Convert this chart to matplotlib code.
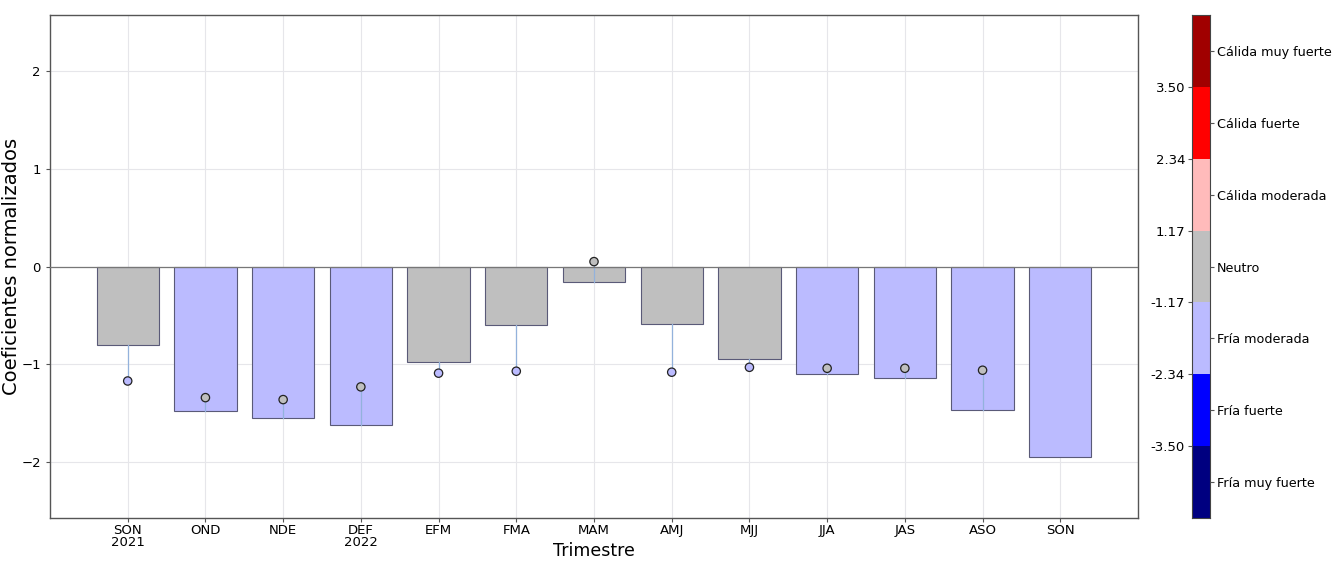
import numpy as np
import matplotlib.pyplot as plt

# datos
trimestres = ["SON\n2021", "OND", "NDE", "DEF\n2022", "EFM", "FMA", "MAM",
              "AMJ", "MJJ", "JJA", "JAS", "ASO", "SON"]
barras = [-0.80, -1.48, -1.55, -1.62, -0.98, -0.60, -0.16,
          -0.59, -0.95, -1.10, -1.14, -1.47, -1.95]
clase_barras = ["Neutro", "Fría moderada", "Fría moderada", "Fría moderada",
                "Neutro", "Neutro", "Neutro", "Neutro", "Neutro",
                "Fría moderada", "Fría moderada", "Fría moderada", "Fría moderada"]
puntos = [-1.17, -1.34, -1.36, -1.23, -1.09, -1.07, 0.05,
          -1.08, -1.03, -1.04, -1.04, -1.06, np.nan]
clase_puntos = ["Fría moderada", "Neutro", "Neutro", "Neutro", "Fría moderada",
                "Fría moderada", "Neutro", "Fría moderada", "Fría moderada",
                "Neutro", "Neutro", "Neutro", "Neutro"]

categorias = ["Fría muy fuerte", "Fría fuerte", "Fría moderada", "Neutro",
              "Cálida moderada", "Cálida fuerte", "Cálida muy fuerte"]
colores = ["#000080", "#0000ff", "#bbbbff", "#bfbfbf",
           "#ffbbbb", "#ff0000", "#a00000"]
limites = ["-3.50", "-2.34", "-1.17", "1.17", "2.34", "3.50"]

color_de = dict(zip(categorias, colores))

fig = plt.figure(figsize=(13.36, 5.64), dpi=100)
ax = fig.add_axes([50 / 1336, 46 / 564, 1088 / 1336, 503 / 564])

x = np.arange(len(trimestres))
ax.bar(x, barras, width=0.8, color=[color_de[c] for c in clase_barras],
       edgecolor="#5a5a78", linewidth=0.8, zorder=2)

# tallos entre la barra y el punto
for xi, b, p in zip(x, barras, puntos):
    if not np.isnan(p):
        ax.plot([xi, xi], [b, p], color="#93b2dc", lw=0.9, zorder=3)

ax.scatter(x, puntos, s=36, c=[color_de[c] for c in clase_puntos],
           edgecolors="#222222", linewidths=0.9, zorder=4)

ax.axhline(0, color="#777777", lw=0.9, zorder=3)

ax.set_xlim(-1, 13)
ax.set_ylim(-2.57, 2.57)
ax.set_xticks(x)
ax.set_xticklabels(trimestres, fontsize=9.5, linespacing=0.9)
ax.set_yticks([-2, -1, 0, 1, 2])
ax.set_yticklabels(["\u22122", "\u22121", "0", "1", "2"], fontsize=9.5)
ax.tick_params(length=3, color="#555555")
ax.tick_params(axis="x", pad=1)
ax.grid(True, color="#e6e6ea", lw=0.8, zorder=0)
ax.set_axisbelow(True)
for s in ax.spines.values():
    s.set_color("#555555")
    s.set_linewidth(1.0)

ax.set_xlabel("Trimestre", fontsize=12.5)
ax.xaxis.set_label_coords(0.5, -0.047)
ax.set_ylabel("Coeficientes normalizados", fontsize=14)
ax.yaxis.set_label_coords(-0.027, 0.5)

# barra de colores con segmentos iguales
cax = fig.add_axes([1192 / 1336, 46 / 564, 18 / 1336, 503 / 564])
n = len(categorias)
cax.bar(np.zeros(n), np.ones(n), bottom=np.arange(n), width=1,
        color=colores, edgecolor="none")
cax.set_xlim(-0.5, 0.5)
cax.set_ylim(0, n)
cax.set_xticks([])
cax.set_yticks(np.arange(1, n))
cax.set_yticklabels(limites, fontsize=9.5)
cax.tick_params(axis="y", length=3, pad=2, color="#555555")
for s in cax.spines.values():
    s.set_color("#444444")
    s.set_linewidth(0.8)

cax2 = cax.twinx()
cax2.set_ylim(0, n)
cax2.set_yticks(np.arange(n) + 0.5)
cax2.set_yticklabels(categorias, fontsize=9.2)
cax2.tick_params(axis="y", length=3, pad=2, color="#555555")
for s in cax2.spines.values():
    s.set_visible(False)

fig.savefig("out.png", dpi=100)
